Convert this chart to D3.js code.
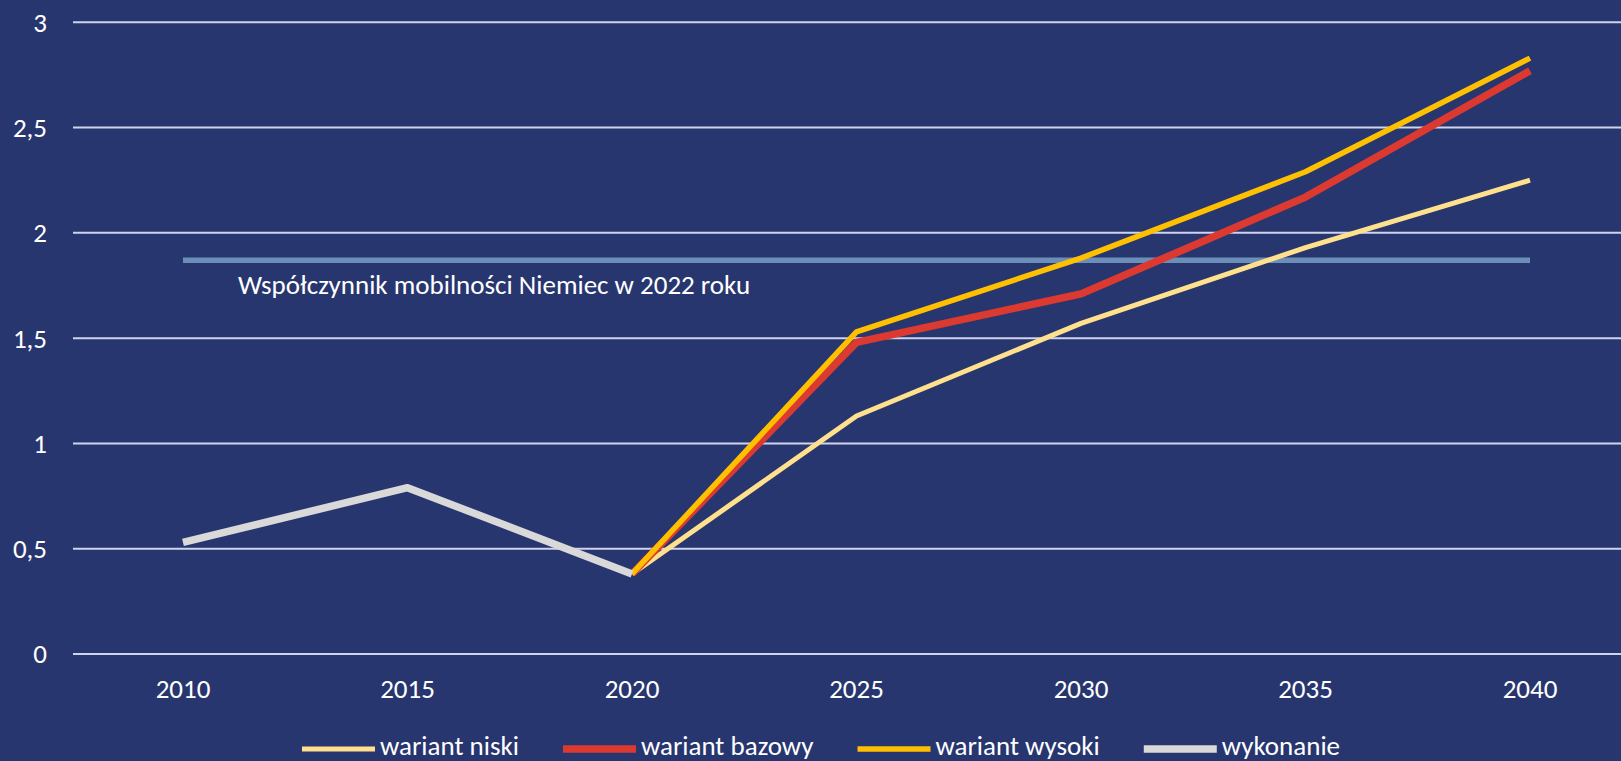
<!DOCTYPE html>
<html>
<head>
<meta charset="utf-8">
<script src="https://cdn.jsdelivr.net/npm/d3@7"></script>
<style>
  html, body { margin: 0; padding: 0; background: #283670; overflow: hidden; }
  svg { display: block; font-family: Carlito, Calibri, 'Open Sans', sans-serif; }
</style>
</head>
<body>
<div id="chartHolder"></div>
<script>
// dane
const years = [2010, 2015, 2020, 2025, 2030, 2035, 2040];
const wariantNiski = [null, null, 0.38, 1.13, 1.57, 1.93, 2.25];
const wariantBazowy = [null, null, 0.38, 1.48, 1.71, 2.17, 2.77];
const wariantWysoki = [null, null, 0.38, 1.53, 1.88, 2.29, 2.83];
const wykonanie = [0.53, 0.79, 0.38, null, null, null, null];
const niemcy2022 = [1.87, 1.87, 1.87, 1.87, 1.87, 1.87, 1.87];
const yTicks = [0, 0.5, 1, 1.5, 2, 2.5, 3];
const seriesNames = ['wariant niski', 'wariant bazowy', 'wariant wysoki', 'wykonanie'];
const refLabel = 'Współczynnik mobilności Niemiec w 2022 roku';

let cfg = {
  width: 1621,
  height: 761,
  bgColor: '#283670',
  gridColor: '#cfd3ec',
  textColor: '#ffffff',
  refColor: '#6b8fb8',
  colors: ['#ffe08c', '#dc3a30', '#ffc000', '#d9d9d9'],
  widths: [5, 7.5, 5.5, 7.5],
  fontSize: 27
};

let svg = d3.select('#chartHolder')
  .append('svg')
  .attr('width', cfg.width)
  .attr('height', cfg.height);

svg.append('rect')
  .attr('width', cfg.width).attr('height', cfg.height)
  .attr('fill', cfg.bgColor);

let x = d3.scalePoint().domain(years).range([183, 1530]);
let y = d3.scaleLinear().domain([0, 3]).range([654, 22.3]);
let plotLeft = 73;
let fmt = d3.formatLocale({decimal: ',', thousands: ' ', grouping: [3], currency: ['', ' zł']}).format('~g');

// linie siatki
svg.append('g').attr('class', 'grid')
  .selectAll('line').data(yTicks).enter()
  .append('line')
  .attr('x1', plotLeft).attr('x2', cfg.width)
  .attr('y1', d => y(d)).attr('y2', d => y(d))
  .attr('stroke', cfg.gridColor).attr('stroke-width', 2);

// etykiety osi Y
svg.append('g').attr('class', 'yLabels')
  .selectAll('text').data(yTicks).enter()
  .append('text')
  .attr('x', 47).attr('y', d => y(d))
  .attr('dy', '0.35em')
  .attr('text-anchor', 'end')
  .attr('fill', cfg.textColor)
  .style('font-size', cfg.fontSize + 'px')
  .text(d => fmt(d));

// etykiety osi X
svg.append('g').attr('class', 'xLabels')
  .selectAll('text').data(years).enter()
  .append('text')
  .attr('x', d => x(d)).attr('y', 698)
  .attr('text-anchor', 'middle')
  .attr('fill', cfg.textColor)
  .style('font-size', cfg.fontSize + 'px')
  .text(d => d);

let line = d3.line()
  .defined(d => d[1] !== null)
  .x(d => x(d[0]))
  .y(d => y(d[1]));

// linia odniesienia - Niemcy 2022
svg.append('path')
  .attr('d', line(years.map((yr, i) => [yr, niemcy2022[i]])))
  .attr('fill', 'none')
  .attr('stroke', cfg.refColor)
  .attr('stroke-width', 5.5);

svg.append('text')
  .attr('x', 238).attr('y', 294)
  .attr('fill', cfg.textColor)
  .style('font-size', cfg.fontSize + 'px')
  .text(refLabel);

let allSeries = [wariantNiski, wariantBazowy, wariantWysoki, wykonanie];
let gSeries = svg.append('g').attr('class', 'series');
allSeries.forEach((vals, i) => {
  gSeries.append('path')
    .attr('d', line(years.map((yr, j) => [yr, vals[j]])))
    .attr('fill', 'none')
    .attr('stroke', cfg.colors[i])
    .attr('stroke-width', cfg.widths[i])
    .attr('stroke-linejoin', 'round')
    .attr('stroke-linecap', 'butt');
});

// legenda
let legend = svg.append('g').attr('class', 'legend');
let lx = 0;
seriesNames.forEach((name, i) => {
  let g = legend.append('g');
  g.append('line')
    .attr('x1', 0).attr('x2', 73)
    .attr('y1', 749).attr('y2', 749)
    .attr('stroke', cfg.colors[i])
    .attr('stroke-width', cfg.widths[i]);
  let t = g.append('text')
    .attr('x', 78).attr('y', 755)
    .attr('fill', cfg.textColor)
    .style('font-size', cfg.fontSize + 'px')
    .text(name);
  let w = 78 + t.node().getComputedTextLength();
  g.attr('transform', `translate(${lx}, 0)`);
  lx += w + 44;
});
let totalW = lx - 44;
legend.attr('transform', `translate(${821 - totalW / 2}, 0)`);
</script>
</body>
</html>
